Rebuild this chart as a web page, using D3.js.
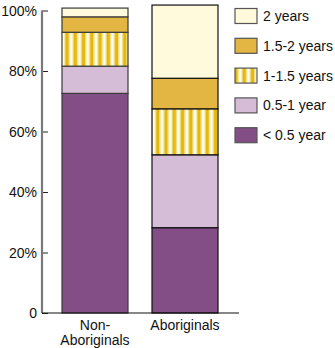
<!DOCTYPE html>
<html>
<head>
<meta charset="utf-8">
<script src="https://cdn.jsdelivr.net/npm/d3@7"></script>
<style>
  html, body { margin: 0; padding: 0; background: #fff; }
  svg { display: block; font-family: "Liberation Sans", Arial, Helvetica, sans-serif; }
</style>
</head>
<body>
<svg id="chart" width="335" height="348"></svg>
<script>
// Groups along the x axis
const groups = ["Non-Aboriginals", "Aboriginals"];
const groupLines = [["Non-", "Aboriginals"], ["Aboriginals"]];

// Duration categories, bottom to top
const durations = ["< 0.5 year", "0.5-1 year", "1-1.5 years", "1.5-2 years", "2 years"];

// Percent share of each duration, per group (same order as durations)
const nonAboriginals = [72.6, 9.0, 11.2, 5.1, 2.9];
const aboriginals = [28.2, 24.1, 15.2, 10.1, 24.2];

// Y tick values and their labels
const yTicks = [0, 20, 40, 60, 80, 100];
const yTickLabels = ["0", "20%", "40%", "60%", "80%", "100%"];

const fills = {
  "< 0.5 year": "#834e86",
  "0.5-1 year": "#d5bdd8",
  "1-1.5 years": "url(#stripes)",
  "1.5-2 years": "#e3b643",
  "2 years": "#fefadb"
};

const svg = d3.select("#chart");

// vertical stripe pattern for the 1-1.5 years band
const defs = svg.append("defs");
const pat = defs.append("pattern")
  .attr("id", "stripes")
  .attr("patternUnits", "userSpaceOnUse")
  .attr("width", 8.25).attr("height", 10)
  .attr("x", 62);
pat.append("rect").attr("width", 8.25).attr("height", 10).attr("fill", "#fffdf0");
pat.append("rect").attr("x", 2.3).attr("width", 1).attr("height", 10).attr("fill", "#f3dc80");
pat.append("rect").attr("x", 3.3).attr("width", 3.6).attr("height", 10).attr("fill", "#e4b90a");
pat.append("rect").attr("x", 6.9).attr("width", 1).attr("height", 10).attr("fill", "#f3dc80");

const y = d3.scaleLinear().domain([0, 100]).range([313, 10.5]);
const x = d3.scaleBand().domain(groups).range([62, 218]).paddingInner(0.2667).paddingOuter(0);

const table = groups.map((g, i) => {
  const row = { group: g };
  const vals = i === 0 ? nonAboriginals : aboriginals;
  durations.forEach((d, j) => row[d] = vals[j]);
  return row;
});
const series = d3.stack().keys(durations)(table);

const borderColor = ["#3a3a3a", "#111"];

// stacked bars
series.forEach(s => {
  svg.append("g").selectAll("rect")
    .data(s)
    .join("rect")
    .attr("x", d => x(d.data.group))
    .attr("width", x.bandwidth())
    .attr("y", d => y(d[1]))
    .attr("height", d => y(d[0]) - y(d[1]))
    .attr("fill", fills[s.key])
    .attr("stroke", (d, i) => borderColor[i])
    .attr("stroke-width", 1.2);
});

// y axis
const yAxis = svg.append("g").attr("transform", "translate(42,0)")
  .call(d3.axisRight(y).tickValues(yTicks).tickSize(6).tickFormat(""));
yAxis.select(".domain").remove();
yAxis.selectAll(".tick line").attr("stroke", "#222").attr("stroke-width", 1);
svg.append("line")
  .attr("x1", 42).attr("x2", 42)
  .attr("y1", y(100)).attr("y2", y(0))
  .attr("stroke", "#7a7a7a").attr("stroke-width", 2.2);

svg.append("g").selectAll("text")
  .data(yTicks)
  .join("text")
  .attr("x", 37)
  .attr("y", d => y(d))
  .attr("dy", "0.36em")
  .attr("text-anchor", "end")
  .attr("font-size", 14)
  .attr("fill", "#111")
  .text((d, i) => yTickLabels[i]);

// baseline
svg.append("line")
  .attr("x1", 42).attr("x2", 239)
  .attr("y1", y(0)).attr("y2", y(0))
  .attr("stroke", "#111").attr("stroke-width", 1.2);

// x labels
groups.forEach((g, i) => {
  const t = svg.append("text")
    .attr("x", x(g) + x.bandwidth() / 2)
    .attr("y", 330)
    .attr("text-anchor", "middle")
    .attr("font-size", 14)
    .attr("fill", "#111");
  groupLines[i].forEach((line, k) => {
    t.append("tspan")
      .attr("x", x(g) + x.bandwidth() / 2)
      .attr("dy", k === 0 ? 0 : 15)
      .text(line);
  });
});

// legend, top entry first
const legendItems = durations.slice().reverse();
const legend = svg.append("g").attr("transform", "translate(235,8.5)");
legendItems.forEach((d, i) => {
  const gy = i * 29.8;
  legend.append("rect")
    .attr("x", 0).attr("y", gy)
    .attr("width", 22).attr("height", 15)
    .attr("fill", fills[d])
    .attr("stroke", "#555").attr("stroke-width", 1.2);
  legend.append("text")
    .attr("x", 28).attr("y", gy + 7.5)
    .attr("dy", "0.36em")
    .attr("font-size", 14)
    .attr("fill", "#111")
    .text(d);
});
</script>
</body>
</html>
